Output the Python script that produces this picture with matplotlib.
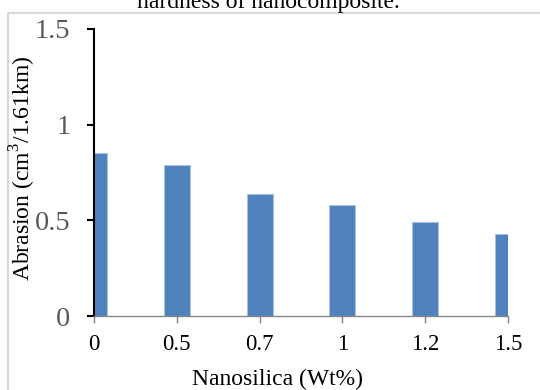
"""Abrasion of nanocomposite vs nanosilica loading, Excel-style bar chart."""

import matplotlib
matplotlib.use('Agg')
import matplotlib.pyplot as plt
from matplotlib.lines import Line2D

plt.rcParams['font.family'] = ['Liberation Serif', 'DejaVu Serif']
plt.rcParams['mathtext.fontset'] = 'custom'
plt.rcParams['mathtext.rm'] = 'Liberation Serif'

# data
loadings = ['0', '0.5', '0.7', '1', '1.2', '1.5']
abrasion = [0.85, 0.79, 0.64, 0.58, 0.49, 0.43]
y_ticks = [0, 0.5, 1, 1.5]
y_tick_labels = ['0', '0.5', '1', '1.5']

W, H = 540, 390
fig = plt.figure(figsize=(W / 100, H / 100), dpi=100)

# chart border (only the left and top edges fall inside the image)
border = '#d9d9d9'
fig.add_artist(Line2D([8 / W, 8 / W], [0, 1 - 13 / H],
                      transform=fig.transFigure, color=border, lw=1.5))
fig.add_artist(Line2D([8 / W, 1], [1 - 13 / H, 1 - 13 / H],
                      transform=fig.transFigure, color=border, lw=1.5))

ax = fig.add_axes([94 / W, 1 - 316 / H, (508 - 94) / W, (316 - 29) / H])
positions = list(range(len(loadings)))
ax.bar(positions, abrasion, width=0.315, color='#4f81bd',
       edgecolor='#a9c1de', linewidth=0.8)

ax.set_xlim(0, len(loadings) - 1)
ax.set_ylim(0, 1.5)
ax.set_xticks(positions)
ax.set_xticklabels(loadings)
ax.set_yticks(y_ticks)
ax.set_yticklabels(y_tick_labels)

for side in ('top', 'right'):
    ax.spines[side].set_visible(False)
ax.spines['left'].set_color('black')
ax.spines['left'].set_linewidth(1.5)
ax.spines['bottom'].set_color('#868686')
ax.spines['bottom'].set_linewidth(1.0)

ax.tick_params(axis='y', direction='out', length=5, width=1.5,
               color='black', labelcolor='#595959', labelsize=20.5, pad=12)
ax.tick_params(axis='x', direction='out', length=5, width=1.0,
               color='#868686', labelcolor='black', labelsize=16.5, pad=8)

fig.text(23 / W, 1 - 168 / H, r'Abrasion (cm$^{3}$/1.61km)', rotation=90,
         ha='center', va='center', fontsize=17)
fig.text(277 / W, 1 - 385 / H, 'Nanosilica (Wt%)', ha='center',
         va='baseline', fontsize=17)
fig.text(268 / W, 1 - 8 / H, 'hardness of nanocomposite.', ha='center',
         va='baseline', fontsize=17)

fig.savefig('out.png', dpi=100)
